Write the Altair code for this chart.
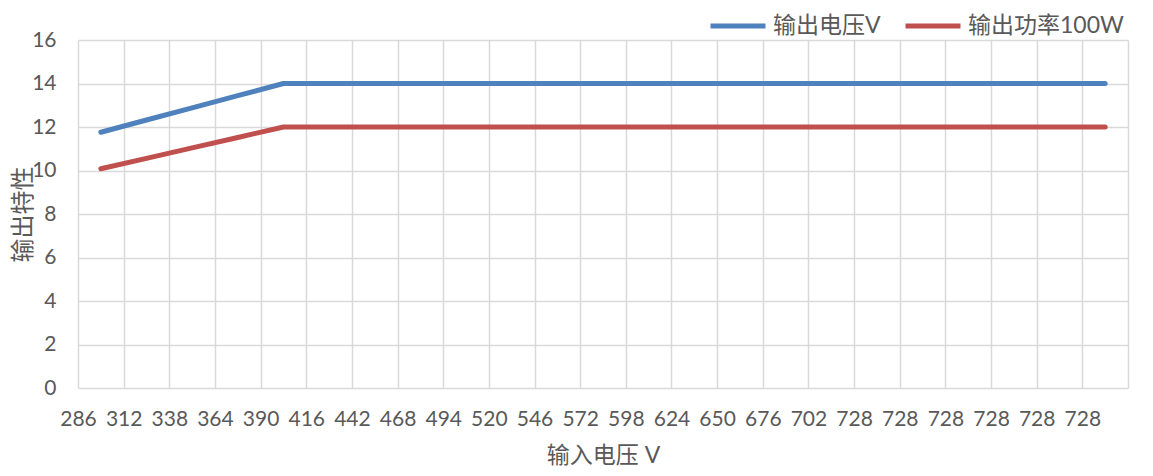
import altair as alt
import pandas as pd

# x-axis category labels (as printed on the original chart)
categories = ["286", "312", "338", "364", "390", "416", "442", "468", "494",
              "520", "546", "572", "598", "624", "650", "676", "702",
              "728", "728", "728", "728", "728", "728"]

series_names = ["输出电压V", "输出功率100W"]
series_colors = ["#4F81BD", "#C0504D"]

voltage_out = [11.76, 12.32, 12.88, 13.44, 14, 14, 14, 14, 14, 14, 14, 14,
               14, 14, 14, 14, 14, 14, 14, 14, 14, 14, 14]
power_out = [10.08, 10.56, 11.04, 11.52, 12, 12, 12, 12, 12, 12, 12, 12,
             12, 12, 12, 12, 12, 12, 12, 12, 12, 12, 12]

y_ticks = [0, 2, 4, 6, 8, 10, 12, 14, 16]

rows = []
for i, cat in enumerate(categories):
    rows.append({"idx": i, "cat": cat, "series": series_names[0], "value": voltage_out[i]})
    rows.append({"idx": i, "cat": cat, "series": series_names[1], "value": power_out[i]})
df = pd.DataFrame(rows)

n = len(categories)
label_array = "[" + ",".join("'" + c + "'" for c in categories) + ",'']"
label_expr = label_array + "[round(datum.value + 0.5)]"

FONT = "Lato, Noto Sans CJK SC, sans-serif"
TXT = "#595959"
GRID = "#D9D9D9"

chart = alt.Chart(df).mark_line(strokeWidth=5, strokeCap="round", strokeJoin="round").encode(
    x=alt.X("idx:Q",
            scale=alt.Scale(domain=[-0.5, n - 0.5], nice=False, zero=False),
            axis=alt.Axis(values=[i - 0.5 for i in range(n + 1)],
                          labelExpr=label_expr, labelOverlap=False, labelFlush=False,
                          grid=True, gridColor=GRID, gridWidth=1.5,
                          ticks=False, domain=False,
                          labelPadding=20, labelFontSize=21, labelColor=TXT,
                          title="输入电压 V", titleFontSize=23, titleColor=TXT,
                          titleFontWeight="normal", titleBaseline="middle", titleY=67)),
    y=alt.Y("value:Q",
            scale=alt.Scale(domain=[0, 16], nice=False),
            axis=alt.Axis(values=y_ticks, grid=True, gridColor=GRID, gridWidth=1.5,
                          ticks=False, domain=False,
                          labelPadding=22, labelFontSize=21, labelColor=TXT,
                          title="输出特性", titleFontSize=24, titleColor=TXT,
                          titleFontWeight="normal", titleAngle=270,
                          titleAlign="center", titleBaseline="middle",
                          titleX=-55, titleY=174)),
    color=alt.Color("series:N",
                    scale=alt.Scale(domain=series_names, range=series_colors),
                    legend=alt.Legend(title=None, orient="none", direction="horizontal",
                                      legendX=630, legendY=-44,
                                      symbolType="stroke", symbolSize=3025,
                                      symbolStrokeWidth=5, labelOffset=5,
                                      columnPadding=14, labelFontSize=23,
                                      labelColor=TXT)),
).properties(
    width=1050, height=348,
    autosize=alt.AutoSizeParams(type="none"),
    padding={"left": 78, "top": 40, "right": 25, "bottom": 88},
).configure(font=FONT).configure_view(strokeWidth=0)

chart.save("out.html", embed_options={"renderer": "svg", "actions": False})
